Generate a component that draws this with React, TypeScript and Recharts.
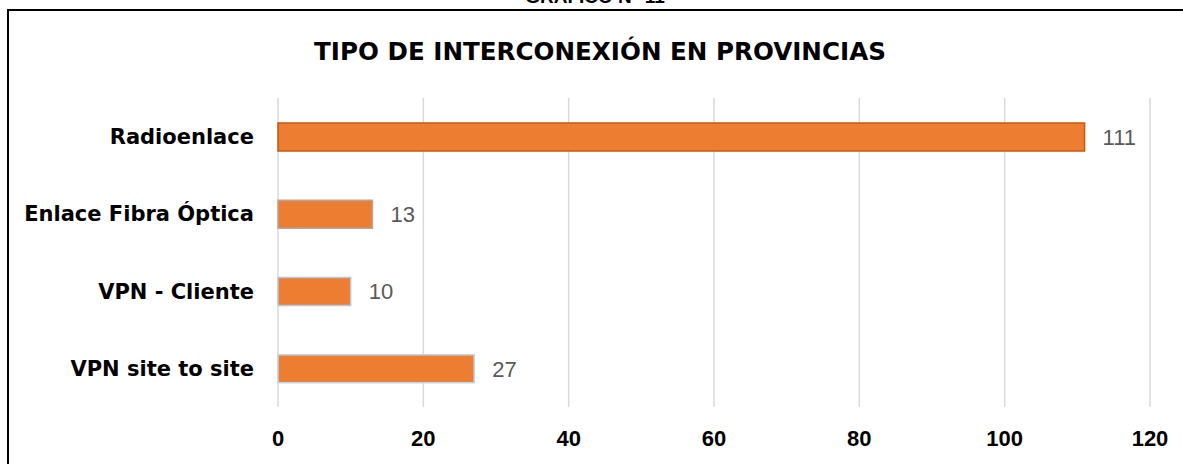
import { Bar, BarChart, CartesianGrid, Cell, LabelList, XAxis, YAxis } from "recharts";

const categories = ["Radioenlace", "Enlace Fibra Óptica", "VPN - Cliente", "VPN site to site"];
const values = [111, 13, 10, 27];
const xTicks = [0, 20, 40, 60, 80, 100, 120];
const barStrokes = ["#C55A11", "#B7A69A", "#B4C7E7", "#BDD7EE"];

const data = categories.map((name, i) => ({ name, value: values[i] }));

export default function App() {
  return (
    <div
      style={{
        position: "absolute",
        left: 0,
        top: 0,
        width: 1183,
        height: 464,
        overflow: "hidden",
        background: "#fff",
      }}
    >
      {/* caption cut off at the top of the page, as in the original */}
      <div
        style={{
          position: "absolute",
          left: 595,
          top: -13,
          transform: "translateX(-50%)",
          fontFamily: "'Liberation Sans', Arial, sans-serif",
          fontWeight: 700,
          fontSize: 19,
          lineHeight: "19px",
          whiteSpace: "nowrap",
        }}
      >
        GRÁFICO N° 11
      </div>

      {/* frame */}
      <div
        style={{
          position: "absolute",
          left: 7,
          top: 9,
          width: 1220,
          height: 500,
          border: "2px solid #000",
        }}
      />

      <div
        style={{
          position: "absolute",
          left: 600,
          top: 37,
          transform: "translateX(-50%)",
          fontFamily: "'DejaVu Sans', sans-serif",
          fontWeight: 700,
          fontSize: 24.6,
          lineHeight: "29px",
          whiteSpace: "nowrap",
          color: "#000",
        }}
      >
        TIPO DE INTERCONEXIÓN EN PROVINCIAS
      </div>

      <div style={{ position: "absolute", left: 0, top: 0 }}>
        <BarChart
          width={1183}
          height={464}
          data={data}
          layout="vertical"
          margin={{ top: 98, right: 33, bottom: 0, left: 0 }}
        >
          <CartesianGrid horizontal={false} stroke="#D9D9D9" strokeWidth={1.5} />
          <XAxis
            type="number"
            domain={[0, 120]}
            ticks={xTicks}
            interval={0}
            axisLine={false}
            tickLine={false}
            height={57}
            tickMargin={17}
            tick={{
              fontSize: 22,
              fontWeight: 700,
              fill: "#000",
              fontFamily: "'Liberation Sans', Arial, sans-serif",
            }}
          />
          <YAxis
            type="category"
            dataKey="name"
            width={278}
            axisLine={false}
            tickLine={false}
            tickMargin={18}
            interval={0}
            tick={{
              fontSize: 21,
              fontWeight: 700,
              fill: "#000",
              fontFamily: "'DejaVu Sans', sans-serif",
            }}
          />
          <Bar dataKey="value" fill="#ED7D31" barSize={28} strokeWidth={1.5} isAnimationActive={false}>
            {data.map((d, i) => (
              <Cell key={d.name} stroke={barStrokes[i]} />
            ))}
            <LabelList
              dataKey="value"
              position="right"
              offset={18}
              fill="#595959"
              fontSize={22}
              fontFamily="'Liberation Sans', Arial, sans-serif"
            />
          </Bar>
        </BarChart>
      </div>
    </div>
  );
}
